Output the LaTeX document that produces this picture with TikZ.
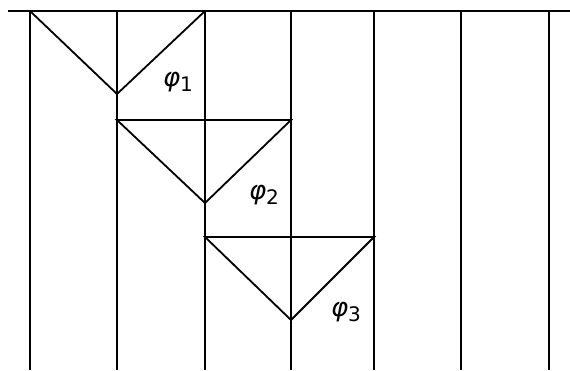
\documentclass[tikz,border=0pt]{standalone}
\usepackage{fontspec}
\setsansfont{DejaVu Sans}
\newcommand{\philab}[1]{{\itshape φ}\raisebox{-5pt}{\fontsize{20}{22}\selectfont #1}}
\begin{document}
\begin{tikzpicture}[x=1pt,y=-1pt,
  wall/.style={line width=2pt},
  tri/.style={line width=1.8pt, line join=miter},
  lab/.style={font=\sffamily\fontsize{26}{28}\selectfont, inner sep=0pt}]
\useasboundingbox (0,0) rectangle (570,370);
% top line
\draw[wall] (8,11) -- (570,11);
% vertical lines
\foreach \x in {30,117,205,291,374,461,549}
  \draw[wall] (\x,11) -- (\x,370);
% triangles
\coordinate (a1) at (30,11); \coordinate (b1) at (205,11); \coordinate (c1) at (117,94);
\coordinate (a2) at (117,120); \coordinate (b2) at (291,120); \coordinate (c2) at (205,203);
\coordinate (a3) at (205,237); \coordinate (b3) at (374,237); \coordinate (c3) at (291,320);
\draw[tri] (a1) -- (c1) -- (b1);
\draw[tri] (a2) -- (b2) -- (c2) -- cycle;
\draw[tri] (a3) -- (b3) -- (c3) -- cycle;
% labels
\node[lab] (p1) at (178,82) {\philab{1}};
\node[lab] (p2) at (264,195) {\philab{2}};
\node[lab] (p3) at (346,312) {\philab{3}};
\end{tikzpicture}
\end{document}
